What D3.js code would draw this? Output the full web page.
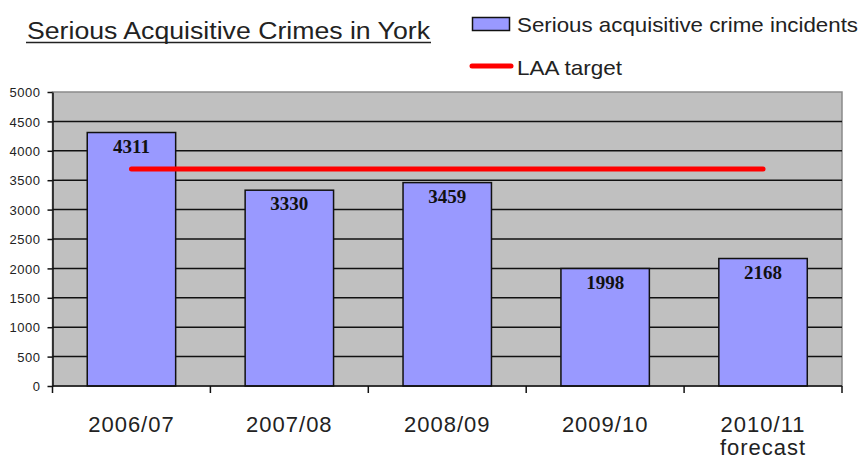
<!DOCTYPE html>
<head>
  <meta charset="utf-8">
  <title>Serious Acquisitive Crimes in York</title>
  <script src="https://d3js.org/d3.v7.min.js"></script>
  <style>
    body { margin: 0; background: #fff; }
    svg { display: block; font-family: "Liberation Sans", Arial, sans-serif; }
    .plot-bg { fill: #c0c0c0; stroke: #8a8a8a; stroke-width: 1.5px; }
    .grid line { stroke: #111; stroke-width: 1.5px; }
    .bar { fill: #9999ff; stroke: #111; stroke-width: 1.5px; }
    .value { font-family: "Liberation Serif", "Times New Roman", serif; font-weight: bold; font-size: 19px; fill: #111; }
    .axis path, .axis line { stroke: #111; stroke-width: 1.5px; }
    .ytick { font-size: 13px; fill: #222; }
    .xlabel { font-size: 22px; fill: #222; }
    .title { font-size: 23px; fill: #222; }
    .legend { font-size: 21px; fill: #222; }
  </style>
</head>

<body>
  <script>
    var categories = ["2006/07", "2007/08", "2008/09", "2009/10", "2010/11"];
    var subLabels = ["", "", "", "", "forecast"];
    var incidents = [4311, 3330, 3459, 1998, 2168];
    var laaTarget = 3690;
    var yTicks = [0, 500, 1000, 1500, 2000, 2500, 3000, 3500, 4000, 4500, 5000];

    var width = 864, height = 461;
    var plot = {left: 52.5, right: 842, top: 92, bottom: 386};

    var svg = d3.select("body").append("svg")
      .attr("width", width)
      .attr("height", height);

    var x = d3.scaleBand()
      .domain(categories)
      .range([plot.left, plot.right])
      .paddingInner(0.44)
      .paddingOuter(0.22);

    // category boundaries for the axis ticks
    var xCat = d3.scaleBand()
      .domain(categories)
      .range([plot.left, plot.right]);

    var y = d3.scaleLinear()
      .domain([0, 5000])
      .range([plot.bottom, plot.top]);

    svg.append("rect")
      .attr("class", "plot-bg")
      .attr("x", plot.left)
      .attr("y", plot.top)
      .attr("width", plot.right - plot.left)
      .attr("height", plot.bottom - plot.top);

    svg.append("g")
      .attr("class", "grid")
      .selectAll("line")
      .data(yTicks.filter(d => d > 0 && d < 5000))
      .enter().append("line")
        .attr("x1", plot.left)
        .attr("x2", plot.right)
        .attr("y1", d => y(d))
        .attr("y2", d => y(d));

    var bars = svg.append("g")
      .selectAll("g")
      .data(incidents)
      .enter().append("g");

    bars.append("rect")
      .attr("class", "bar")
      .attr("x", (d, i) => x(categories[i]))
      .attr("y", d => y(d))
      .attr("width", x.bandwidth())
      .attr("height", d => y(0) - y(d));

    bars.append("text")
      .attr("class", "value")
      .attr("x", (d, i) => x(categories[i]) + x.bandwidth() / 2)
      .attr("y", d => y(d) + 20)
      .attr("text-anchor", "middle")
      .text(d => d);

    // LAA target line, centre of first category to centre of last
    svg.append("line")
      .attr("x1", xCat(categories[0]) + xCat.bandwidth() / 2)
      .attr("x2", xCat(categories[categories.length - 1]) + xCat.bandwidth() / 2)
      .attr("y1", y(laaTarget))
      .attr("y2", y(laaTarget))
      .style("stroke", "#ff0000")
      .style("stroke-width", 5)
      .style("stroke-linecap", "round");

    // y axis
    var yAxis = svg.append("g")
      .attr("class", "axis")
      .attr("transform", "translate(" + plot.left + ",0)")
      .call(d3.axisLeft(y).tickValues(yTicks).tickSize(5).tickSizeOuter(0).tickFormat(""));
    yAxis.selectAll(".tick").append("text")
      .attr("class", "ytick")
      .attr("x", -12)
      .attr("dy", "0.36em")
      .attr("text-anchor", "end")
      .style("letter-spacing", "0.5px")
      .text(d => d);

    // x axis with ticks at category boundaries
    var xAxis = svg.append("g")
      .attr("class", "axis")
      .attr("transform", "translate(0," + plot.bottom + ")");
    xAxis.append("line")
      .attr("x1", plot.left)
      .attr("x2", plot.right);
    xAxis.selectAll(".xt")
      .data(categories.map(c => xCat(c)).concat([plot.right]))
      .enter().append("line")
        .attr("class", "xt")
        .attr("x1", d => d)
        .attr("x2", d => d)
        .attr("y1", 0)
        .attr("y2", 7);

    var xl = svg.append("g")
      .selectAll("text")
      .data(categories)
      .enter().append("text")
        .attr("class", "xlabel")
        .attr("text-anchor", "middle")
        .attr("x", d => xCat(d) + xCat.bandwidth() / 2)
        .attr("y", 432)
        .style("letter-spacing", "1px");
    xl.append("tspan").text(d => d);
    xl.append("tspan")
      .attr("x", d => xCat(d) + xCat.bandwidth() / 2)
      .attr("y", 455)
      .text((d, i) => subLabels[i]);

    // title
    svg.append("text")
      .attr("class", "title")
      .attr("x", 27)
      .attr("y", 39)
      .attr("textLength", 403)
      .attr("lengthAdjust", "spacingAndGlyphs")
      .text("Serious Acquisitive Crimes in York");
    svg.append("line")
      .attr("x1", 26).attr("x2", 431)
      .attr("y1", 42.5).attr("y2", 42.5)
      .style("stroke", "#222")
      .style("stroke-width", 1.5);

    // legend
    var legend = svg.append("g");
    legend.append("rect")
      .attr("class", "bar")
      .attr("x", 472.5)
      .attr("y", 17.5)
      .attr("width", 37)
      .attr("height", 13);
    legend.append("text")
      .attr("class", "legend")
      .attr("x", 517)
      .attr("y", 32)
      .attr("textLength", 341)
      .attr("lengthAdjust", "spacingAndGlyphs")
      .text("Serious acquisitive crime incidents");
    legend.append("line")
      .attr("x1", 472).attr("x2", 511)
      .attr("y1", 66).attr("y2", 66)
      .style("stroke", "#ff0000")
      .style("stroke-width", 5)
      .style("stroke-linecap", "round");
    legend.append("text")
      .attr("class", "legend")
      .attr("x", 517)
      .attr("y", 75)
      .attr("textLength", 105)
      .attr("lengthAdjust", "spacingAndGlyphs")
      .text("LAA target");
  </script>
</body>
